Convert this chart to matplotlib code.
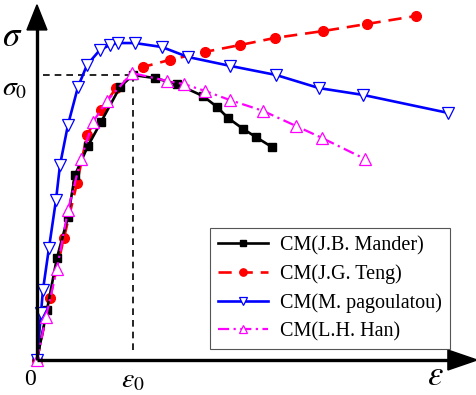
import matplotlib
matplotlib.use("Agg")
import matplotlib.pyplot as plt
from matplotlib.patches import Polygon

plt.rcParams['font.family'] = ['Liberation Serif', 'DejaVu Serif']
plt.rcParams['mathtext.fontset'] = 'stix'

# normalized strain (eps/eps0) and stress (sigma/sigma0)
mander_x = [0, 0.104, 0.208, 0.323, 0.396, 0.531, 0.667, 0.865, 1.0, 1.229, 1.458,
            1.729, 1.875, 1.990, 2.146, 2.281, 2.448]
mander_y = [0, 0.175, 0.358, 0.502, 0.649, 0.751, 0.835, 0.958, 1.0, 0.989, 0.968,
            0.926, 0.888, 0.849, 0.811, 0.782, 0.747]

teng_x = [0, 0.135, 0.281, 0.417, 0.521, 0.667, 0.823, 1.104, 1.385, 1.75, 2.115,
          2.479, 2.979, 3.438, 3.948]
teng_y = [0, 0.218, 0.428, 0.621, 0.789, 0.877, 0.954, 1.028, 1.053, 1.081, 1.105,
          1.130, 1.154, 1.179, 1.207]

pago_x = [0, 0.042, 0.0625, 0.125, 0.198, 0.240, 0.323, 0.427, 0.521, 0.656, 0.760,
          0.844, 1.021, 1.302, 1.573, 2.010, 2.490, 2.9375, 3.396, 4.281]
pago_y = [0, 0.165, 0.246, 0.393, 0.561, 0.684, 0.825, 0.958, 1.035, 1.088, 1.105,
          1.112, 1.112, 1.098, 1.063, 1.032, 1.0, 0.954, 0.930, 0.867]

han_x = [0, 0.094, 0.208, 0.323, 0.458, 0.583, 0.729, 0.990, 1.354, 1.531, 1.75,
         2.010, 2.354, 2.698, 2.969, 3.417]
han_y = [0, 0.151, 0.319, 0.526, 0.705, 0.835, 0.909, 1.007, 0.979, 0.968, 0.944,
         0.912, 0.874, 0.821, 0.779, 0.705]

labels = ['CM(J.B. Mander)', 'CM(J.G. Teng)', 'CM(M. pagoulatou)', 'CM(L.H. Han)']

fig = plt.figure(figsize=(4.77, 3.95), dpi=100)
ax = fig.add_axes([0, 0, 1, 1])
ax.set_xlim(-0.385, 4.583)
ax.set_ylim(-0.1228, 1.263)
ax.axis('off')

# peak reference lines
ax.plot([0.06, 1.0], [1.0, 1.0], color='black', lw=1.2, ls=(0, (4, 3)))
ax.plot([1.0, 1.0], [1.0, 0.02], color='black', lw=1.2, ls=(0, (4, 3)))

ax.plot(mander_x, mander_y, color='black', lw=1.9, marker='s', ms=5.5,
        label=labels[0], zorder=3)
ax.plot(teng_x, teng_y, color='red', lw=1.9, ls=(0, (5, 3)), marker='o', ms=7,
        label=labels[1], zorder=2)
ax.plot(pago_x, pago_y, color='blue', lw=1.9, marker='v', ms=8, mfc='white',
        mec='blue', mew=0.9, label=labels[2], zorder=3)
ax.plot(han_x, han_y, color='magenta', lw=1.6, ls=(0, (5, 2, 1, 2)), marker='^', ms=8,
        mfc='white', mec='magenta', mew=0.9, label=labels[3], zorder=4)

# axes with arrow heads
ax.plot([0, 0], [0, 1.17], color='black', lw=2.4, solid_capstyle='butt', zorder=5)
ax.plot([0, 4.3], [0, 0], color='black', lw=2.4, solid_capstyle='butt', zorder=5)
ax.add_patch(Polygon([[-0.104, 1.158], [0.104, 1.158], [0, 1.246]], closed=True,
                     color='black', zorder=5))
ax.add_patch(Polygon([[4.28, 0.035], [4.28, -0.035], [4.583, 0]], closed=True,
                     color='black', zorder=5))

ax.text(-0.255, 1.13, r'$\sigma$', fontsize=25, ha='center', va='center')
ax.text(-0.23, 0.95, r'$\sigma_0$', fontsize=20, ha='center', va='center')
ax.text(-0.07, -0.07, '0', fontsize=17, ha='center', va='center')
ax.text(1.0, -0.072, r'$\varepsilon_0$', fontsize=20, ha='center', va='center')
ax.text(4.15, -0.058, r'$\varepsilon$', fontsize=25, ha='center', va='center')

leg = ax.legend(loc='upper left', bbox_to_anchor=(210 / 477, 1 - 228 / 395),
                bbox_transform=fig.transFigure, fontsize=14.5, frameon=True,
                fancybox=False, edgecolor='#555555', framealpha=1,
                handlelength=2.5, handletextpad=0.6, labelspacing=0.45,
                borderpad=0.4, borderaxespad=0, markerscale=0.75)
leg.get_frame().set_linewidth(0.8)

fig.savefig('out.png', dpi=100)
